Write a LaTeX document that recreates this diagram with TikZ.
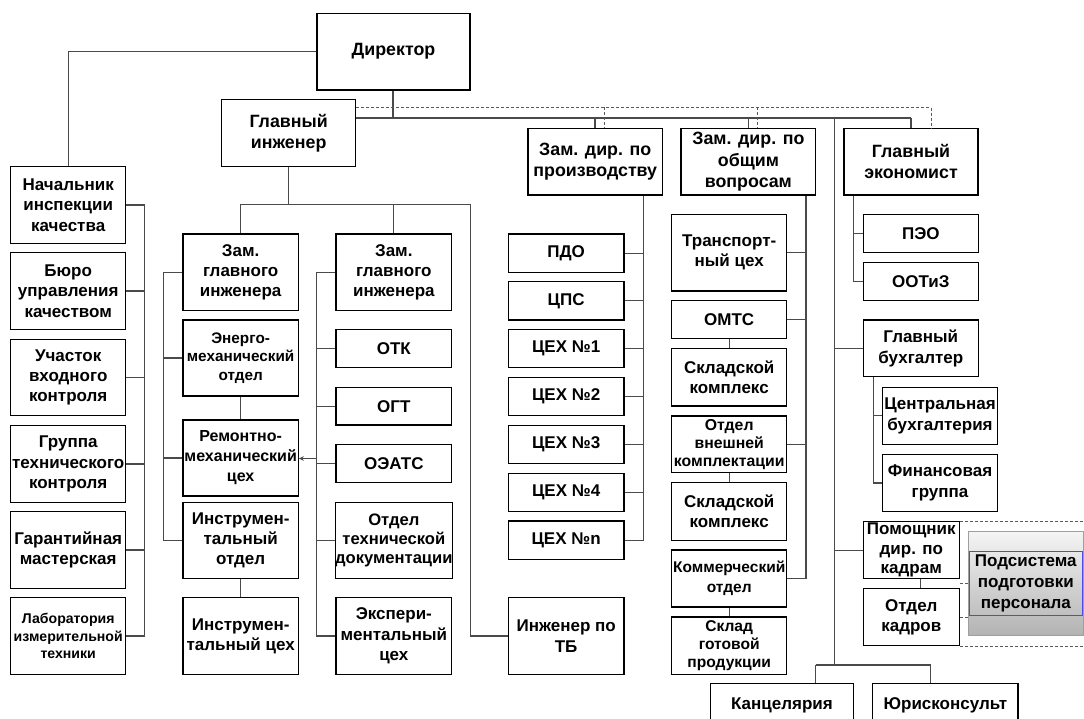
\documentclass[tikz,border=0pt]{standalone}
\usepackage{fontspec}
\setmainfont{Liberation Sans}
\usetikzlibrary{arrows.meta}

\definecolor{linegray}{HTML}{4A4A4A}
\definecolor{dashgray}{HTML}{5A5A5A}
\definecolor{selblue}{HTML}{4A4AF0}

% box placed by its corners: [style] name x1 y1 x2 y2 text
\newcommand\obox[7][]{%
  \node[box,#1,minimum width={(#5-#3)*1pt},minimum height={(#6-#4)*1pt}]
    (#2) at ({(#3+#5)/2},{(#4+#6)/2}) {#7};}

\tikzset{
  box/.style={draw=black, line width=1.1pt, fill=white, align=center,
    inner sep=0pt, font=\bfseries\fontsize{17}{20.3}\selectfont},
  fs/.style 2 args={font=\bfseries\fontsize{#1}{#2}\selectfont},
  top/.style={fs={17.8}{21.5}},
  conn/.style={draw=linegray, line width=1.1pt},
  dconn/.style={draw=dashgray, line width=0.9pt, dash pattern=on 3pt off 2pt},
}

\begin{document}
\begin{tikzpicture}[x=1pt,y=-1pt]
\useasboundingbox (0,0) rectangle (1084,718);

% ---- top management ----
\obox[top]{dir}{317}{13.3}{470}{90}{Директор}
\obox[top]{gi}{221.5}{99.3}{355.8}{166.7}{Главный\\инженер}
\obox[top]{zpr}{528}{128.3}{662.5}{195}{Зам. дир. по\\производству}
\obox[top]{zob}{681}{128.3}{815.8}{195}{Зам. дир. по\\общим\\вопросам}
\obox[top]{gek}{844}{128.3}{978}{195}{Главный\\экономист}

% ---- quality column ----
\obox{nach}{10.7}{166.7}{125.7}{243.3}{Начальник\\инспекции\\качества}
\obox{buro}{10.7}{252.7}{125.7}{329.3}{Бюро\\управления\\качеством}
\obox{uch}{10.7}{339.3}{125.7}{415.7}{Участок\\входного\\контроля}
\obox{grp}{10.7}{425.7}{125.7}{502.3}{Группа\\технического\\контроля}
\obox{gar}{10.7}{511.7}{125.7}{588.3}{Гарантийная\\мастерская}
\obox[fs={14.1}{17.2}]{lab}{10.7}{597.7}{125.7}{674.3}{Лаборатория\\измерительной\\техники}

% ---- first deputy chief engineer ----
\obox{zgia}{183}{234}{298.3}{310.3}{Зам.\\главного\\инженера}
\obox[fs={15.3}{18.5}]{emo}{183}{320}{298.3}{396}{Энерго-\\механический\\отдел}
\obox[fs={16}{20}]{rmc}{183}{420}{298.3}{496}{Ремонтно-\\механический\\цех}
\obox{iot}{183}{502.3}{298.3}{578.7}{Инструмен-\\тальный\\отдел}
\obox{ic}{183}{597.7}{298.3}{674.3}{Инструмен-\\тальный цех}

% ---- second deputy chief engineer ----
\obox{zgib}{336}{234}{451.7}{310.3}{Зам.\\главного\\инженера}
\obox{otk}{336}{329.3}{451.7}{367.7}{ОТК}
\obox{ogt}{336}{387.3}{451.7}{425}{ОГТ}
\obox{oeats}{336}{444.3}{451.7}{482.7}{ОЭАТС}
\obox[fs={16.6}{19.3}]{otd}{336}{502.3}{451.7}{578.7}{Отдел\\технической\\документации}
\obox{exp}{336}{597.7}{451.7}{674.3}{Экспери-\\ментальный\\цех}

% ---- production ----
\obox{pdo}{508.3}{234}{624}{272.3}{ПДО}
\obox{cps}{508.3}{281.7}{624}{320}{ЦПС}
\obox{ca}{508.3}{329.3}{624}{367.7}{ЦЕХ №1}
\obox{cb}{508.3}{377.7}{624}{415.7}{ЦЕХ №2}
\obox{cc}{508.3}{425.7}{624}{463.3}{ЦЕХ №3}
\obox{cd}{508.3}{473.3}{624}{511.7}{ЦЕХ №4}
\obox{cn}{508.3}{521}{624}{559.3}{ЦЕХ №n}
\obox{itb}{508.3}{597.7}{624}{674.3}{Инженер по\\ТБ}

% ---- general affairs ----
\obox{tr}{671.7}{214.3}{786.7}{291}{Транспорт-\\ный цех}
\obox{omts}{671.7}{300.7}{786.7}{338.7}{ОМТС}
\obox{ska}{671.7}{348.7}{786.7}{406}{Складской\\комплекс}
\obox[fs={15.8}{18.3}]{ovk}{671.7}{416}{786.7}{472.7}{Отдел\\внешней\\комплектации}
\obox{skb}{671.7}{482.7}{786.7}{540.3}{Складской\\комплекс}
\obox[fs={15.5}{20}]{kom}{671.7}{550}{786.7}{607}{Коммерческий\\отдел}
\obox[fs={15.6}{18.3}]{sgp}{671.7}{617}{786.7}{674.3}{Склад\\готовой\\продукции}

% ---- economics, accounting, personnel ----
\obox{peo}{863.3}{214.3}{978.3}{252.7}{ПЭО}
\obox{ootiz}{863.3}{262.7}{978.3}{300.7}{ООТиЗ}
\obox{gb}{863.3}{320}{978.3}{376.7}{Главный\\бухгалтер}
\obox{cbu}{882.3}{387.3}{997.7}{444.3}{Центральная\\бухгалтерия}
\obox{fg}{882.3}{454.3}{997.7}{511.7}{Финансовая\\группа}
\obox[fs={17}{19.5}]{pom}{863.3}{521.7}{959.3}{578.7}{Помощник\\дир. по\\кадрам}
\obox{ok}{863.3}{588.3}{959.3}{645.7}{Отдел\\кадров}

% training subsystem block
\node[draw=gray!75, line width=0.8pt, top color=gray!8, bottom color=gray!60,
      minimum width=115pt, minimum height=104.7pt, inner sep=0pt]
  (sub) at (1025.8,583.4) {};
\node[draw=selblue, line width=1pt, minimum width=113pt, minimum height=63.3pt,
      inner sep=0pt, align=center, fs={17}{20.8}]
  (subt) at (1025.8,583.4) {Подсистема\\подготовки\\персонала};

% ---- office ----
\obox{kanc}{710.7}{683.3}{853.3}{726.7}{Канцелярия}
\obox{jur}{872.7}{683.3}{1018}{726.7}{Юрисконсульт}

% ================= connectors =================
% director level
\coordinate (bus) at (393,118);
\coordinate (dbus) at (0,107.3);
\coordinate (za) at (595,118);
\coordinate (zb) at (748.4,118);
\coordinate (zc) at (911,118);
\coordinate (da) at (604,107.3);
\coordinate (db) at (757.6,107.3);
\coordinate (dc) at (931,107.3);
\draw[conn] (dir.south -| bus) -- (bus);
\draw[conn] (gi.east |- bus) -- (zc);
\draw[conn] (za) -- (za |- zpr.north);
\draw[conn] (zb) -- (zb |- zob.north);
\draw[conn] (zc) -- (zc |- gek.north);
\draw[dconn] (gi.east |- dbus) -- (dc) -- (dc |- gek.north);
\draw[dconn] (da) -- (da |- zpr.north);
\draw[dconn] (db) -- (db |- zob.north);
\draw[conn] (dir.west) -| (nach.north);

% quality column bus
\coordinate (qx) at (144.3,0);
\draw[conn] (nach.east) -- (nach.east -| qx) -- (lab.east -| qx) -- (lab.east);
\foreach \n in {buro,uch,grp,gar}
  \draw[conn] (\n.east) -- (\n.east -| qx);

% chief engineer branches
\coordinate (gix) at (0,204.3);
\coordinate (tbx) at (470.7,204.3);
\draw[conn] (gi.south) -- (gi.south |- gix);
\draw[conn] (zgia.north) -- (zgia.north |- gix) -- (tbx) -- (tbx |- itb.west) -- (itb.west);
\draw[conn] (zgib.north) -- (zgib.north |- gix);

\coordinate (ax) at (163.3,0);
\draw[conn] (zgia.west) -- (zgia.west -| ax) -- (iot.west -| ax) -- (iot.west);
\foreach \n in {emo,rmc}
  \draw[conn] (\n.west) -- (\n.west -| ax);
\draw[conn] (emo.south) -- (rmc.north);
\draw[conn] (iot.south) -- (ic.north);

\coordinate (bx) at (316.7,0);
\draw[conn] (zgib.west) -- (zgib.west -| bx) -- (exp.west -| bx) -- (exp.west);
\foreach \n in {otk,ogt,oeats,otd}
  \draw[conn] (\n.west) -- (\n.west -| bx);
\draw[conn, -{Stealth[length=5pt,width=4.5pt]}] ([yshift=5pt]oeats.west -| bx) -- ([yshift=5pt]oeats.west -| rmc.east);

% production bus
\coordinate (px) at (643.4,0);
\draw[conn] (zpr.south -| px) -- (cn.east -| px) -- (cn.east);
\foreach \n in {pdo,cps,ca,cb,cc,cd}
  \draw[conn] (\n.east) -- (\n.east -| px);

% general affairs bus
\coordinate (gx) at (806,0);
\draw[conn] (zob.south -| gx) -- (kom.east -| gx) -- (kom.east);
\foreach \n in {tr,omts,ovk}
  \draw[conn] (\n.east) -- (\n.east -| gx);
\draw[conn] (omts.south) -- (ska.north);
\draw[conn] (ovk.south) -- (skb.north);
\draw[conn] (kom.south) -- (sgp.north);

% economist bus
\coordinate (ex) at (853.5,0);
\draw[conn] (gek.south -| ex) -- (ootiz.west -| ex) -- (ootiz.west);
\draw[conn] (peo.west) -- (peo.west -| ex);

% long vertical from the director bus
\coordinate (lx) at (834.4,0);
\coordinate (lend) at (834.4,665);
\coordinate (ka) at (815.7,665);
\coordinate (kb) at (930.7,665);
\draw[conn] (lx |- bus) -- (lend);
\draw[conn] (gb.west -| lx) -- (gb.west);
\draw[conn] (pom.west -| lx) -- (pom.west);
\draw[conn] (ka) -- (kb);
\draw[conn] (ka) -- (ka |- kanc.north);
\draw[conn] (kb) -- (kb |- jur.north);

% accounting
\coordinate (bbx) at (873.3,0);
\draw[conn] (gb.south -| bbx) -- (fg.west -| bbx) -- (fg.west);
\draw[conn] (cbu.west) -- (cbu.west -| bbx);

% personnel
\coordinate (kx) at (920.7,0);
\coordinate (redge) at (1084,0);
\draw[conn] (kx |- pom.south) -- (kx |- ok.north);
\draw[dconn] (pom.north east) -- (pom.north east -| redge);
\draw[dconn] (ok.south east) -- (ok.south east -| redge);
\draw[dconn] (ok.east) -- (ok.east -| sub.west);
\draw[dconn] ([yshift=-4pt]pom.south east) -- ([yshift=-4pt]pom.south east -| sub.west);
\end{tikzpicture}
\end{document}
